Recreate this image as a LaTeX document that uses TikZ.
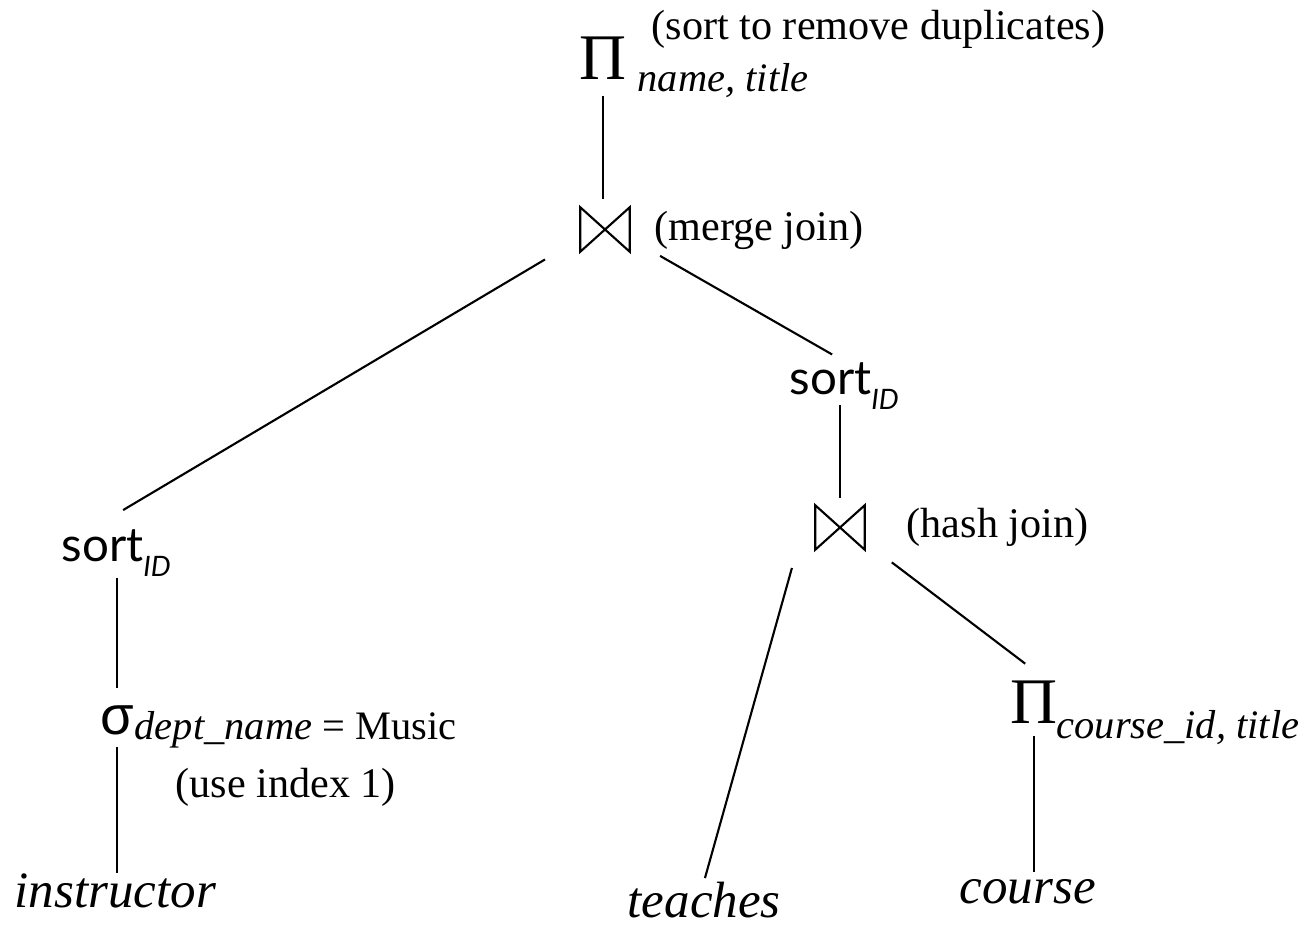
\documentclass[tikz,border=0pt]{standalone}
\usepackage{fontspec}
\setmainfont{Liberation Serif}
\newfontfamily\sortfont{Lato}
\newfontfamily\sigmafont{Liberation Sans}
\usetikzlibrary{calc}
\newcommand{\drawjoin}[1]{\draw[edge] (#1.north west) -- (#1.south east) -- (#1.north east) -- (#1.south west) -- cycle;}

\tikzset{
	op/.style={inner sep=0pt, font=\fontsize{18.5}{20}\selectfont},
	sigmaop/.style={inner sep=0pt, font=\sigmafont\fontsize{15.5}{17}\selectfont},
	joinop/.style={inner sep=0pt, minimum width=0.48cm, minimum height=0.43cm},
	sortop/.style={inner sep=0pt, anchor=base west, font=\sortfont\fontsize{13.5}{15}\selectfont},
	sub/.style={inner sep=0pt, anchor=base west, font=\fontsize{11.5}{13}\selectfont\itshape},
	note/.style={inner sep=0pt, anchor=base west, font=\fontsize{12}{14}\selectfont},
	rel/.style={inner sep=0pt, anchor=base west, font=\fontsize{14.5}{16}\selectfont\itshape},
	edge/.style={line width=0.6pt}
}
\newcommand{\sortid}{sort\raisebox{-0.15cm}{\fontsize{8}{9}\selectfont\itshape ID}}

\begin{document}
\begin{tikzpicture}[x=0.01cm, y=-0.01cm]
	%%%%% START %%%%%
	\useasboundingbox (0, 0) rectangle (1299, 927);
	
	%% final projection
	\node[op] (piTop) at (603, 58.5) {Π};
	\node[sub] (piTopSub) at (637, 91) {name, title};
	\node[note] (piTopNote) at (651, 39) {(sort to remove duplicates)};
	
	%% merge join
	\node[joinop] (mj) at (605, 229.5) {};
	\drawjoin{mj}
	\node[note] (mjNote) at (654, 240) {(merge join)};
	
	%% left branch
	\node[sortop] (sortL) at (61, 561) {\sortid};
	\node[sigmaop] (sigma) at (117, 720) {σ};
	\node[sub] (sigmaSub) at (134, 739) {dept\_name {\upshape = Music}};
	\node[note] (sigmaNote) at (175, 797) {(use index 1)};
	\node[rel] (instr) at (14, 907) {instructor};
	
	%% right branch
	\node[sortop] (sortR) at (789, 394) {\sortid};
	\node[joinop] (hj) at (840, 527.5) {};
	\drawjoin{hj}
	\node[note] (hjNote) at (906, 537) {(hash join)};
	\node[rel] (teach) at (627, 917) {teaches};
	\node[op] (piC) at (1034, 702) {Π};
	\node[sub] (piCSub) at (1056, 738) {course\_id, title};
	\node[rel] (course) at (959, 903) {course};
	
	%% edges
	\draw[edge, shorten <=0.15cm, shorten >=0.08cm] (piTop.south) -- (piTop.south |- mj.north);
	\draw[edge, shorten <=0.41cm, shorten >=0.36cm] (mj.200) -- (sortL.135);
	\draw[edge, shorten <=0.35cm, shorten >=0.14cm] (mj.-20) -- (sortR.north);
	\draw[edge, shorten <=0.01cm, shorten >=0.17cm] (sigma.north |- sortL.south) -- (sigma.north);
	\draw[edge, shorten <=0.12cm] (sigma.south) -- (sigma.south |- instr.north);
	\draw[edge, shorten <=0.11cm, shorten >=0.07cm] (hj.north |- sortR.base) -- (hj.north);
	\draw[edge, shorten <=0.42cm, shorten >=0.03cm] ([xshift=-0.12cm]hj.west) -- (teach.north);
	\draw[edge, shorten <=0.34cm, shorten >=0.27cm] (hj.-30) -- (piC.60);
	\draw[edge, shorten <=0.12cm, shorten >=0.06cm] (piC.south) -- (piC.south |- course.north);
	
	%%%%% END %%%%%
\end{tikzpicture}
\end{document}
